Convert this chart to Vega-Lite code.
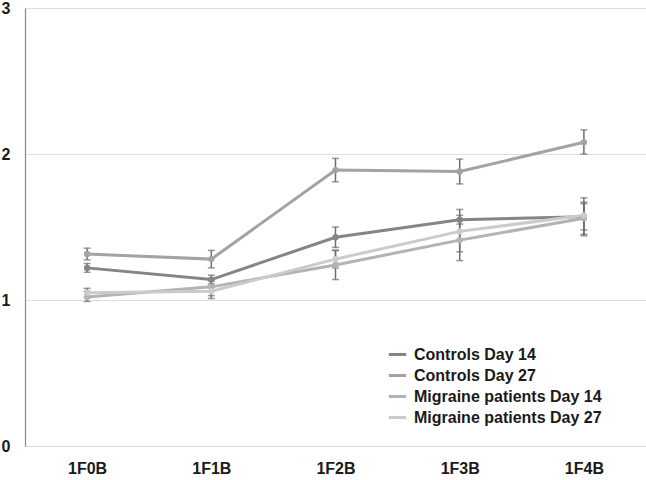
{
  "$schema": "https://vega.github.io/schema/vega-lite/v6.json",
  "width": 621,
  "height": 438,
  "autosize": {"type": "none"},
  "padding": {"left": 25, "top": 8, "right": 0, "bottom": 34},
  "background": "white",
  "config": {
    "view": {"stroke": null},
    "font": "Liberation Sans",
    "axis": {"labelFont": "Liberation Sans", "labelFontWeight": "bold", "labelFontSize": 16, "labelColor": "#1a1a1a"}
  },
  "data": {
    "values": [
      {"group": "Controls Day 14", "x": "1F0B", "v": 1.22, "lo": 1.19, "hi": 1.25},
      {"group": "Controls Day 14", "x": "1F1B", "v": 1.14, "lo": 1.11, "hi": 1.17},
      {"group": "Controls Day 14", "x": "1F2B", "v": 1.43, "lo": 1.36, "hi": 1.50},
      {"group": "Controls Day 14", "x": "1F3B", "v": 1.55, "lo": 1.52, "hi": 1.58},
      {"group": "Controls Day 14", "x": "1F4B", "v": 1.57, "lo": 1.44, "hi": 1.70},
      {"group": "Controls Day 27", "x": "1F0B", "v": 1.315, "lo": 1.275, "hi": 1.355},
      {"group": "Controls Day 27", "x": "1F1B", "v": 1.28, "lo": 1.22, "hi": 1.34},
      {"group": "Controls Day 27", "x": "1F2B", "v": 1.89, "lo": 1.81, "hi": 1.97},
      {"group": "Controls Day 27", "x": "1F3B", "v": 1.88, "lo": 1.795, "hi": 1.965},
      {"group": "Controls Day 27", "x": "1F4B", "v": 2.08, "lo": 2.0, "hi": 2.165},
      {"group": "Migraine patients Day 14", "x": "1F0B", "v": 1.02, "lo": 0.99, "hi": 1.06},
      {"group": "Migraine patients Day 14", "x": "1F1B", "v": 1.09, "lo": 1.01, "hi": 1.13},
      {"group": "Migraine patients Day 14", "x": "1F2B", "v": 1.24, "lo": 1.14, "hi": 1.34},
      {"group": "Migraine patients Day 14", "x": "1F3B", "v": 1.41, "lo": 1.27, "hi": 1.55},
      {"group": "Migraine patients Day 14", "x": "1F4B", "v": 1.56, "lo": 1.45, "hi": 1.67},
      {"group": "Migraine patients Day 27", "x": "1F0B", "v": 1.05, "lo": 1.02, "hi": 1.08},
      {"group": "Migraine patients Day 27", "x": "1F1B", "v": 1.06, "lo": 1.03, "hi": 1.09},
      {"group": "Migraine patients Day 27", "x": "1F2B", "v": 1.28, "lo": 1.22, "hi": 1.34},
      {"group": "Migraine patients Day 27", "x": "1F3B", "v": 1.47, "lo": 1.33, "hi": 1.62},
      {"group": "Migraine patients Day 27", "x": "1F4B", "v": 1.58, "lo": 1.48, "hi": 1.66}
    ]
  },
  "encoding": {
    "x": {
      "field": "x", "type": "ordinal", "sort": ["1F0B", "1F1B", "1F2B", "1F3B", "1F4B"],
      "scale": {"type": "point", "padding": 0.5},
      "axis": {"title": null, "labelAngle": 0, "ticks": false, "domainColor": "#d9d9d9", "labelPadding": 14, "grid": false}
    }
  },
  "layer": [
    {
      "mark": {"type": "rule", "color": "#6e6e6e", "strokeWidth": 1.5},
      "encoding": {
        "y": {"field": "lo", "type": "quantitative"},
        "y2": {"field": "hi"},
        "detail": {"field": "group"}
      }
    },
    {
      "mark": {"type": "tick", "color": "#6e6e6e", "size": 7, "thickness": 1.5, "orient": "horizontal"},
      "encoding": {"y": {"field": "lo", "type": "quantitative"}}
    },
    {
      "mark": {"type": "tick", "color": "#6e6e6e", "size": 7, "thickness": 1.5, "orient": "horizontal"},
      "encoding": {"y": {"field": "hi", "type": "quantitative"}}
    },
    {
      "mark": {"type": "line", "strokeWidth": 3, "point": {"filled": true, "size": 40}},
      "encoding": {
        "y": {
          "field": "v", "type": "quantitative",
          "scale": {"domain": [0, 3], "nice": false},
          "axis": {"title": null, "values": [0, 1, 2, 3], "format": "d", "ticks": false, "domainColor": "#888888", "domainWidth": 1.2, "gridColor": "#dedede", "labelPadding": 24, "labelAlign": "left", "labelOffset": 0}
        },
        "color": {
          "field": "group", "type": "nominal",
          "scale": {
            "domain": ["Controls Day 14", "Controls Day 27", "Migraine patients Day 14", "Migraine patients Day 27"],
            "range": ["#858585", "#a3a3a3", "#b3b3b3", "#cbcbcb"]
          },
          "legend": {
            "title": null, "orient": "none", "legendX": 362, "legendY": 336,
            "symbolType": "stroke", "symbolStrokeWidth": 3, "symbolSize": 300,
            "labelFont": "Liberation Sans", "labelFontWeight": "bold", "labelFontSize": 16, "labelColor": "#1a1a1a",
            "labelLimit": 0, "rowPadding": 2, "labelOffset": 6
          }
        }
      }
    }
  ]
}
